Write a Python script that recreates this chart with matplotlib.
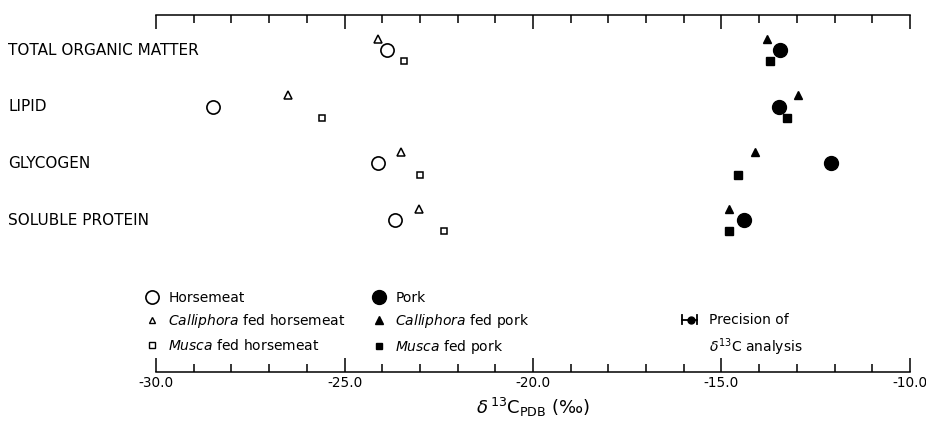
import matplotlib
matplotlib.use('Agg')
import matplotlib.pyplot as plt
from matplotlib.lines import Line2D
from matplotlib.legend_handler import HandlerBase
from matplotlib.ticker import MultipleLocator
import matplotlib.transforms as mtransforms
import numpy as np

categories = ['TOTAL ORGANIC MATTER', 'LIPID', 'GLYCOGEN', 'SOLUBLE PROTEIN']

# delta 13C values (per mil)
horsemeat = [-23.86, -28.5, -24.1, -23.67]
calliphora_horse = [-24.12, -26.5, -23.5, -23.03]
musca_horse = [-23.43, -25.6, -23.0, -22.37]
pork = [-13.46, -13.48, -12.1, -14.39]
calliphora_pork = [-13.78, -12.98, -14.1, -14.81]
musca_pork = [-13.7, -13.27, -14.57, -14.79]

xticks = [-30.0, -25.0, -20.0, -15.0, -10.0]

plt.rcParams['font.family'] = ['DejaVu Sans']
plt.rcParams['axes.unicode_minus'] = False


class PrecisionHandler(HandlerBase):
    # small error bar symbol: |--o-|
    def create_artists(self, legend, orig_handle, xdescent, ydescent,
                       width, height, fontsize, trans):
        x0 = -xdescent
        x1 = width - xdescent
        yc = height / 2 - ydescent + 12
        h = 3
        arts = [Line2D([x0, x1], [yc, yc], color='black', lw=1.3),
                Line2D([x0, x0], [yc - h, yc + h], color='black', lw=1.3),
                Line2D([x1, x1], [yc - h, yc + h], color='black', lw=1.3),
                Line2D([x0 + 0.6 * (x1 - x0)], [yc], marker='o', ms=5,
                       color='black', ls='none')]
        for a in arts:
            a.set_transform(trans)
        return arts


fig = plt.figure(figsize=(9.26, 4.26), dpi=100)
ax = fig.add_axes([0.1685, 0.1268, 0.8142, 0.838])

rows = np.arange(len(categories))
off = 0.2

ax.plot(horsemeat, rows, 'o', ms=9.5, mfc='white', mec='black', mew=1.2, ls='none')
ax.plot(calliphora_horse, rows - off, '^', ms=5.5, mfc='white', mec='black', mew=1.1, ls='none')
ax.plot(musca_horse, rows + off, 's', ms=5, mfc='white', mec='black', mew=1.1, ls='none')
ax.plot(pork, rows, 'o', ms=10, color='black', ls='none')
ax.plot(calliphora_pork, rows - off, '^', ms=6, color='black', ls='none')
ax.plot(musca_pork, rows + off, 's', ms=6, color='black', ls='none')

ax.set_xlim(-30, -10)
ax.set_ylim(5.68, -0.62)
ax.set_xticks(xticks)
ax.set_xticklabels(['%.1f' % v for v in xticks], fontsize=9.8)
ax.xaxis.set_minor_locator(MultipleLocator(1))
ax.set_yticks([])
ax.tick_params(axis='x', which='major', direction='in', length=10, width=1.1,
               top=True, bottom=True, labeltop=False, pad=3)
ax.tick_params(axis='x', which='minor', direction='in', length=5.5, width=1.1,
               top=True, bottom=True)
for s in ['left', 'right']:
    ax.spines[s].set_visible(False)
for s in ['top', 'bottom']:
    ax.spines[s].set_linewidth(1.1)

ax.set_xlabel(r'$\delta\,^{13}\mathrm{C}_{\mathrm{PDB}}$ (‰)', fontsize=13, labelpad=4)

trans = mtransforms.blended_transform_factory(fig.transFigure, ax.transData)
for i, c in enumerate(categories):
    ax.text(0.009, i, c, transform=trans, ha='left', va='center', fontsize=11)

# legends
h1 = [Line2D([], [], marker='o', ms=9.5, mfc='white', mec='black', mew=1.2, ls='none'),
      Line2D([], [], marker='^', ms=5, mfc='white', mec='black', mew=1.0, ls='none'),
      Line2D([], [], marker='s', ms=4.5, mfc='white', mec='black', mew=1.0, ls='none')]
l1 = ['Horsemeat', r'$\it{Calliphora}$ fed horsemeat', r'$\it{Musca}$ fed horsemeat']
h2 = [Line2D([], [], marker='o', ms=10, color='black', ls='none'),
      Line2D([], [], marker='^', ms=5.5, color='black', ls='none'),
      Line2D([], [], marker='s', ms=5, color='black', ls='none')]
l2 = ['Pork', r'$\it{Calliphora}$ fed pork', r'$\it{Musca}$ fed pork']

leg_kw = dict(frameon=False, fontsize=10, handlelength=0.8, handletextpad=0.8,
              labelspacing=0.55, borderpad=0, borderaxespad=0, loc='upper left')
leg1 = ax.legend(h1, l1, bbox_to_anchor=(-0.013, 0.228), **leg_kw)
ax.add_artist(leg1)
leg2 = ax.legend(h2, l2, bbox_to_anchor=(0.288, 0.228), **leg_kw)
ax.add_artist(leg2)

prec = Line2D([], [])
leg3 = ax.legend([prec], ['Precision of\n' + r'$\delta^{13}$C analysis'],
                 handler_map={prec: PrecisionHandler()},
                 bbox_to_anchor=(0.697, 0.165), frameon=False, fontsize=10,
                 handlelength=1.1, handletextpad=0.9, borderpad=0, borderaxespad=0,
                 loc='upper left')
for t in leg3.get_texts():
    t.set_linespacing(1.6)

fig.savefig('out.png', dpi=100)
